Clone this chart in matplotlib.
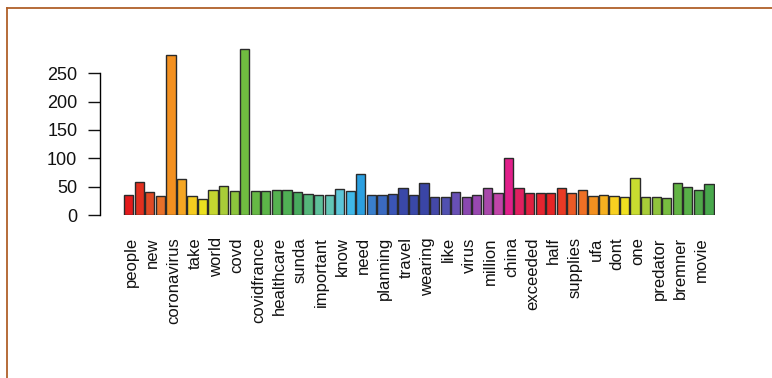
import matplotlib
matplotlib.use("Agg")
import matplotlib.pyplot as plt
import matplotlib.transforms as mtransforms
from matplotlib.lines import Line2D
import numpy as np

plt.rcParams["font.family"] = ["Liberation Sans", "DejaVu Sans"]

# word labels (R only printed every other bar)
labels = [
    "people", "new", "coronavirus", "take", "world", "covd", "covidfrance",
    "healthcare", "sunda", "important", "know", "need", "planning", "travel",
    "wearing", "like", "virus", "million", "china", "exceeded", "half",
    "supplies", "ufa", "dont", "one", "predator", "bremner", "movie",
]

# frequencies of the 56 bars
counts = [
    36, 58, 41, 33, 282, 63, 34, 29, 45, 51, 43, 293, 43, 42,
    44, 44, 40, 37, 35, 35, 46, 43, 73, 35, 35, 37, 48, 35,
    56, 32, 32, 40, 32, 36, 47, 38, 100, 47, 38, 38, 38, 47,
    38, 45, 34, 36, 34, 32, 66, 32, 32, 30, 57, 49, 44, 55,
]

bar_colors = [
    "#e31a1c", "#e2301f", "#e04a25", "#e8702a", "#f39020", "#f5a623",
    "#f5cc20", "#eae020", "#c5d630", "#a8cc38", "#8cc43c", "#70bc40",
    "#66b845", "#5cb548", "#55b250", "#50b055", "#48aa5e", "#55b57a",
    "#5ec09a", "#62c5b5", "#5cc5d8", "#40b8e8", "#2b9fe0", "#3a7fcc",
    "#3b6ac0", "#3b55b5", "#3a48a8", "#3a48a8", "#3a45a5", "#4448a8",
    "#5050b0", "#6850b5", "#8a48b0", "#9848b0", "#a848aa", "#c045a8",
    "#e0208a", "#e02060", "#e02040", "#e52530", "#e52525", "#e83a25",
    "#eb5a25", "#ee7025", "#f29020", "#f5b020", "#f8d020", "#f0e020",
    "#c8dc30", "#a8cc38", "#90c43c", "#78bc40", "#62b444", "#58b048",
    "#50a84a", "#48a84c",
]

W, H = 772, 378
fig = plt.figure(figsize=(W / 100, H / 100), dpi=100)

pitch = 10.55
x_first = 128.7
left_px = x_first - 0.6 * pitch
right_px = x_first + 55.6 * pitch
ax = fig.add_axes([left_px / W, (H - 215) / H, (right_px - left_px) / W, 170 / H])

x = np.arange(len(counts))
ax.bar(x, counts, width=0.88, color=bar_colors, edgecolor="#2a2a2a", linewidth=1.0)

ax.set_xlim(-0.6, 55.6)
ax.set_ylim(0, 300)

ax.set_xticks(x[::2])
ax.set_xticklabels(labels, rotation=90, fontsize=12, color="#111111")
ax.tick_params(axis="x", length=0, pad=16)
# R puts perpendicular labels a little right of the bar centre
shift = mtransforms.ScaledTranslation(3 / 100, 0, fig.dpi_scale_trans)
for t in ax.get_xticklabels():
    t.set_transform(t.get_transform() + shift)

ax.set_yticks([0, 50, 100, 150, 200, 250])
ax.tick_params(axis="y", length=8.4, width=1.0, pad=8, labelsize=13,
               colors="#111111")

for s in ["top", "right", "bottom"]:
    ax.spines[s].set_visible(False)
ax.spines["left"].set_position(("outward", 16))
ax.spines["left"].set_bounds(0, 250)
ax.spines["left"].set_linewidth(1.0)

# brown page frame along the top and left edges
frame = "#b0602a"
fig.add_artist(Line2D([7 / W, 1], [(H - 8) / H, (H - 8) / H], color=frame, lw=1.3))
fig.add_artist(Line2D([7 / W, 7 / W], [0, (H - 8) / H], color=frame, lw=1.3))

fig.savefig("out.png", dpi=100)
